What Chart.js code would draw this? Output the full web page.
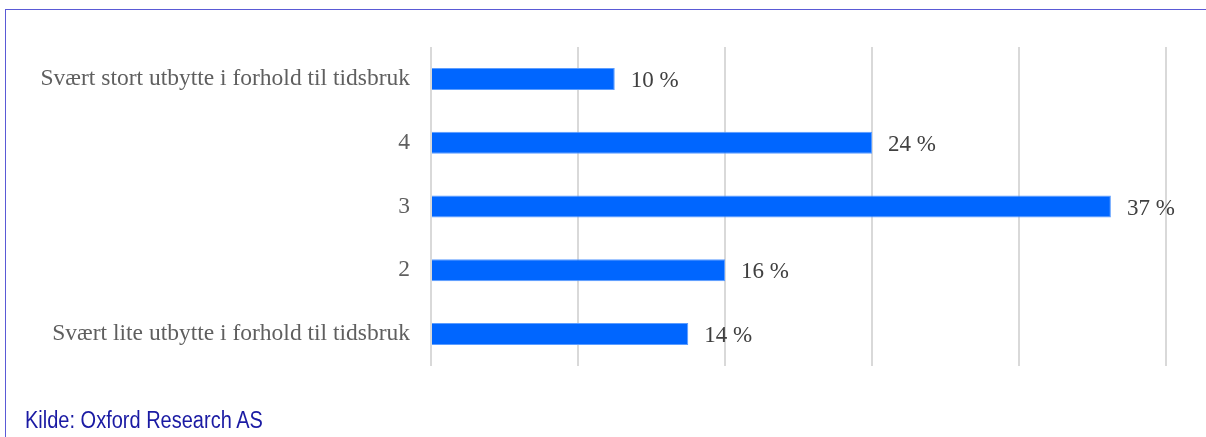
<!DOCTYPE html>
<html>
<head>
<meta charset="utf-8">
<script src="https://cdn.jsdelivr.net/npm/chart.js@4/dist/chart.umd.min.js"></script>
<style>
  html, body { margin: 0; padding: 0; background: #fff; }
  #wrap { position: relative; width: 1206px; height: 437px; overflow: hidden; }
  #frame { position: absolute; left: 5px; top: 9px; width: 1210px; height: 440px;
           border-top: 1px solid #5a5ad6; border-left: 1px solid #5a5ad6; }
  #src { position: absolute; left: 25px; top: 407px; font: 20px "Liberation Sans", Arial, sans-serif;
         color: #1a1aa3; transform: scaleY(1.15); transform-origin: left top; }
  canvas { position: absolute; left: 0; top: 0; }
</style>
</head>
<body>
<div id="wrap">
  <div id="frame"></div>
  <canvas id="barcanvas" width="1206" height="437"></canvas>
  <div id="src">Kilde: Oxford Research AS</div>
</div>
<script>
var categories = [
	"Svært stort utbytte i forhold til tidsbruk",
	"4",
	"3",
	"2",
	"Svært lite utbytte i forhold til tidsbruk"
];
var shares = [10, 24, 37, 16, 14];
var xTicks = [0, 8, 16, 24, 32, 40];

// prints "NN %" just right of each bar
var valueLabels = {
	id: 'valueLabels',
	afterDatasetsDraw: function(chart) {
		var ctx = chart.ctx;
		var meta = chart.getDatasetMeta(0);
		ctx.save();
		ctx.font = '23px "Liberation Serif", "Times New Roman", serif';
		ctx.fillStyle = '#404040';
		ctx.textAlign = 'left';
		ctx.textBaseline = 'middle';
		meta.data.forEach(function(bar, i) {
			ctx.fillText(shares[i] + ' %', bar.x + 16, bar.y + 2);
		});
		ctx.restore();
	}
};

window.onload = function(){
	var ctx = document.getElementById("barcanvas").getContext("2d");
	window.myBar = new Chart(ctx, {
		type: 'bar',
		data: {
			labels: categories,
			datasets: [{
				data: shares,
				backgroundColor: '#0066ff',
				borderColor: '#5c9dff',
				borderWidth: 1,
				categoryPercentage: 1,
				barPercentage: 0.345
			}]
		},
		plugins: [valueLabels],
		options: {
			indexAxis: 'y',
			responsive: false,
			animation: false,
			layout: { padding: { top: 47, bottom: 71, right: 40, left: 0 } },
			plugins: {
				legend: { display: false },
				tooltip: { enabled: false }
			},
			scales: {
				x: {
					min: 0,
					max: 40,
					afterBuildTicks: function(scale) {
						scale.ticks = xTicks.map(function(v) { return { value: v }; });
					},
					ticks: { display: false },
					grid: { color: '#d9d9d9', lineWidth: 2, drawTicks: false },
					border: { display: false }
				},
				y: {
					afterFit: function(scale) { scale.width = 431; },
					ticks: {
						padding: 21,
						color: '#5f5f5f',
						font: { family: '"Liberation Serif", "Times New Roman", serif', size: 23.5 }
					},
					grid: { display: false, drawTicks: false },
					border: { display: false }
				}
			}
		}
	});
}
</script>
</body>
</html>
